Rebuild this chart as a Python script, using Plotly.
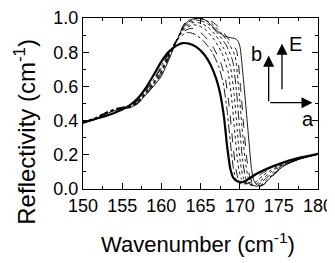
import plotly.graph_objects as go

# ---- data ----
thick_x = [150, 152, 154, 155, 156, 157, 158, 159, 160, 161, 162, 162.7, 163.5, 164.5, 165.5, 166.3, 167, 167.5, 168, 168.4, 168.8, 169.2, 169.7, 170.3, 171, 172, 173, 174, 175, 176, 177, 178, 179, 180]
thick_y = [0.39, 0.415, 0.445, 0.465, 0.49, 0.53, 0.59, 0.665, 0.745, 0.805, 0.84, 0.853, 0.85, 0.83, 0.785, 0.725, 0.645, 0.56, 0.42, 0.25, 0.12, 0.065, 0.045, 0.04, 0.055, 0.085, 0.108, 0.128, 0.146, 0.162, 0.175, 0.186, 0.196, 0.205]

c1_x = [150, 151.5, 153, 154.5, 156, 157, 158, 159, 160, 161, 162, 163, 163.6, 164.5, 165.5, 166.5, 167.3, 167.9, 168.4, 168.8, 169.2, 169.6, 170.2, 171, 172, 173, 174, 175, 176, 178, 180]
c1_y = [0.39, 0.41, 0.445, 0.47, 0.485, 0.52, 0.58, 0.64, 0.72, 0.80, 0.87, 0.91, 0.915, 0.90, 0.86, 0.80, 0.72, 0.62, 0.46, 0.28, 0.12, 0.05, 0.03, 0.045, 0.08, 0.105, 0.125, 0.145, 0.16, 0.183, 0.205]

c2_x = [150, 151.5, 153, 154.5, 156, 157, 158, 159, 160, 161, 162, 163, 163.8, 164.6, 165.6, 166.6, 167.5, 168.2, 168.7, 169.1, 169.5, 169.9, 170.5, 171.2, 172, 173, 174, 175, 176, 178, 180]
c2_y = [0.385, 0.41, 0.44, 0.465, 0.485, 0.515, 0.575, 0.635, 0.71, 0.795, 0.875, 0.925, 0.94, 0.93, 0.89, 0.83, 0.75, 0.64, 0.47, 0.28, 0.12, 0.05, 0.03, 0.035, 0.065, 0.095, 0.12, 0.14, 0.158, 0.183, 0.205]

c3_x = [150, 151.5, 153, 154.5, 156, 157, 158, 159, 160, 161, 162, 163, 164, 164.8, 165.8, 166.8, 167.7, 168.5, 169.0, 169.4, 169.8, 170.2, 170.8, 171.5, 172.3, 173, 174, 175, 176, 178, 180]
c3_y = [0.39, 0.415, 0.45, 0.47, 0.48, 0.51, 0.57, 0.625, 0.70, 0.79, 0.875, 0.935, 0.96, 0.955, 0.925, 0.87, 0.80, 0.69, 0.52, 0.32, 0.14, 0.06, 0.03, 0.025, 0.05, 0.08, 0.11, 0.135, 0.155, 0.182, 0.205]

c4_x = [150, 151.5, 153, 154.5, 156, 157, 158, 159, 160, 161, 162, 163, 164.2, 165, 166, 167, 168, 168.8, 169.3, 169.7, 170.1, 170.5, 171, 171.8, 172.5, 173.2, 174, 175, 176, 178, 180]
c4_y = [0.385, 0.41, 0.445, 0.465, 0.48, 0.51, 0.565, 0.62, 0.69, 0.785, 0.875, 0.945, 0.975, 0.97, 0.945, 0.895, 0.82, 0.72, 0.55, 0.34, 0.15, 0.06, 0.03, 0.02, 0.04, 0.07, 0.10, 0.13, 0.152, 0.181, 0.204]

c5_x = [150, 151.5, 153, 154.5, 156, 157, 158, 159, 160, 161, 162, 163, 164.4, 165.3, 166.3, 167.3, 168.3, 169.1, 169.6, 170.0, 170.4, 170.8, 171.3, 172, 172.7, 173.4, 174.2, 175, 176, 178, 180]
c5_y = [0.39, 0.415, 0.45, 0.475, 0.485, 0.505, 0.56, 0.615, 0.685, 0.78, 0.875, 0.955, 0.988, 0.98, 0.955, 0.905, 0.84, 0.75, 0.57, 0.35, 0.16, 0.06, 0.03, 0.018, 0.035, 0.065, 0.095, 0.125, 0.15, 0.18, 0.203]

c6_x = [150, 151.5, 153, 154.5, 156, 157, 158, 159, 160, 161, 162, 163, 164.5, 165.5, 166.5, 167.5, 168.5, 169.4, 169.9, 170.3, 170.7, 171.1, 171.6, 172.2, 172.9, 173.6, 174.4, 175.2, 176, 178, 180]
c6_y = [0.385, 0.41, 0.445, 0.47, 0.48, 0.505, 0.555, 0.61, 0.675, 0.775, 0.873, 0.965, 0.995, 0.99, 0.965, 0.92, 0.86, 0.78, 0.58, 0.36, 0.17, 0.065, 0.03, 0.015, 0.03, 0.06, 0.09, 0.12, 0.148, 0.18, 0.203]

c7_x = [150, 151.5, 153, 154.5, 156, 157, 158, 159, 160, 161, 162, 163, 164.6, 165.6, 166.6, 167.6, 168.6, 169.6, 170.1, 170.5, 170.9, 171.3, 171.8, 172.5, 173.2, 174, 175, 176, 178, 180]
c7_y = [0.39, 0.41, 0.445, 0.47, 0.48, 0.5, 0.55, 0.605, 0.67, 0.77, 0.872, 0.97, 1.0, 0.995, 0.975, 0.935, 0.875, 0.81, 0.6, 0.38, 0.18, 0.07, 0.03, 0.012, 0.03, 0.065, 0.11, 0.145, 0.18, 0.203]

c8_x = [150, 151.5, 153, 154.5, 156, 157, 158, 159, 160, 161, 162, 162.8, 163.5, 164.3, 165.2, 166, 167, 168, 168.8, 169.4, 169.8, 170.05, 170.4, 170.8, 171.2, 171.5, 171.8, 172.3, 173, 173.8, 174.6, 175.5, 176.5, 178, 180]
c8_y = [0.385, 0.405, 0.44, 0.465, 0.475, 0.5, 0.55, 0.60, 0.66, 0.76, 0.87, 0.95, 0.985, 0.998, 0.998, 0.975, 0.93, 0.895, 0.885, 0.88, 0.865, 0.83, 0.68, 0.48, 0.27, 0.12, 0.05, 0.02, 0.025, 0.06, 0.10, 0.13, 0.155, 0.18, 0.203]

thin_series = [
    (c1_x, c1_y, "dashdot"),
    (c2_x, c2_y, "dash"),
    (c3_x, c3_y, "dot"),
    (c4_x, c4_y, "dot"),
    (c5_x, c5_y, "dashdot"),
    (c6_x, c6_y, "dot"),
    (c7_x, c7_y, "dash"),
    (c8_x, c8_y, "solid"),
]

x_ticks = [150, 155, 160, 165, 170, 175, 180]
y_ticks = [0.0, 0.2, 0.4, 0.6, 0.8, 1.0]
x_title = "Wavenumber (cm<sup>-1</sup>)"
y_title = "Reflectivity (cm<sup>-1</sup>)"

fig = go.Figure()
for xs, ys, dash in thin_series:
    fig.add_trace(go.Scatter(x=xs, y=ys, mode="lines",
                             line=dict(color="black", width=0.9, dash=dash, shape="spline", smoothing=0.5),
                             showlegend=False, hoverinfo="skip"))
fig.add_trace(go.Scatter(x=thick_x, y=thick_y, mode="lines",
                         line=dict(color="black", width=2.2, shape="spline", smoothing=0.5),
                         showlegend=False, hoverinfo="skip"))

font = "Liberation Sans, Arial, sans-serif"
axis_common = dict(showline=True, linecolor="black", linewidth=1.3, mirror="ticks",
                   ticks="inside", ticklen=6, tickwidth=1.3, tickcolor="black",
                   showgrid=False, zeroline=False, automargin=False,
                   tickfont=dict(family=font, size=18, color="black"))

fig.update_xaxes(range=[150, 180], tickvals=x_ticks, ticktext=[str(v) for v in x_ticks],
                 minor=dict(ticks="inside", ticklen=3, tickwidth=1.2, tickcolor="black", dtick=2.5),
                 **axis_common)
fig.update_yaxes(range=[0, 1.0], tickvals=y_ticks, ticktext=[f"{v:.1f}" for v in y_ticks],
                 minor=dict(ticks="inside", ticklen=3, tickwidth=1.2, tickcolor="black", dtick=0.1),
                 **axis_common)

# axis titles
fig.add_annotation(text=x_title, xref="paper", yref="paper", x=0.49, y=0, yshift=-54,
                   xanchor="center", yanchor="middle", showarrow=False,
                   font=dict(family=font, size=22, color="black"))
fig.add_annotation(text=y_title, xref="paper", yref="paper", x=0, y=0.335, xshift=-58,
                   xanchor="center", yanchor="middle", textangle=-90, showarrow=False,
                   font=dict(family=font, size=24, color="black"))

# polarisation arrows
arrow = dict(showarrow=True, arrowhead=2, arrowsize=1.7, arrowwidth=1.3, arrowcolor="black",
             axref="x", ayref="y", xref="x", yref="y", text="")
fig.add_annotation(x=173.7, y=0.78, ax=173.7, ay=0.505, **arrow)
fig.add_annotation(x=179.3, y=0.505, ax=173.7, ay=0.505, **arrow)
fig.add_annotation(x=175.4, y=0.85, ax=175.4, ay=0.575, **arrow)
lab = dict(showarrow=False, xref="x", yref="y", font=dict(family=font, size=20, color="black"))
fig.add_annotation(x=172.2, y=0.79, text="b", **lab)
fig.add_annotation(x=177.1, y=0.85, text="E", **lab)
fig.add_annotation(x=178.7, y=0.41, text="a", **lab)

# the page adds an 8px body margin, so the figure is sized/offset to compensate
fig.update_layout(width=327, height=255, margin=dict(l=75, r=17, t=10, b=74),
                  plot_bgcolor="white", paper_bgcolor="white")
fig.write_html("out.html")
